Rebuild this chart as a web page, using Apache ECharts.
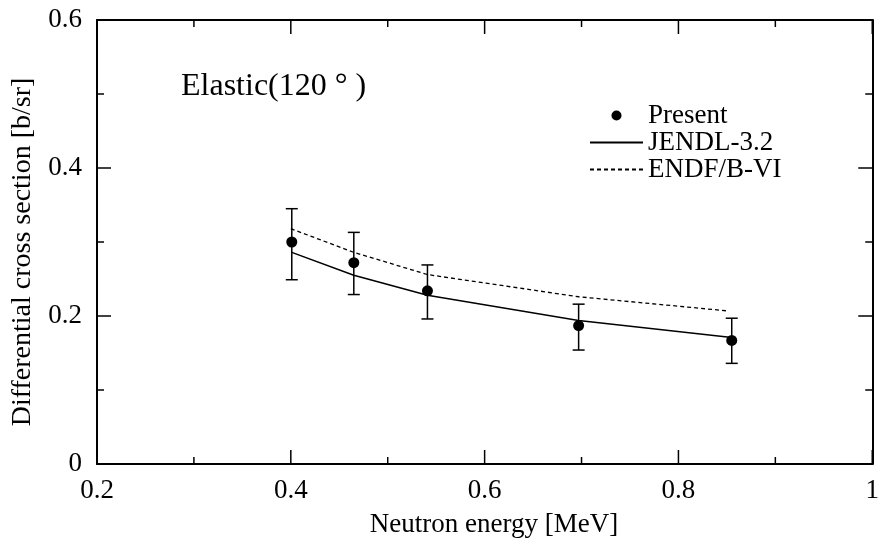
<!DOCTYPE html>
<html>
<head>
<meta charset="utf-8">
<script src="https://cdn.jsdelivr.net/npm/echarts@6/dist/echarts.min.js"></script>
<style>
html,body{margin:0;padding:0;background:#fff;}
#chart{width:882px;height:538px;}
</style>
</head>
<body>
<div id="chart"></div>
<script>
// Measured data (Neutron energy [MeV], differential cross section [b/sr])
const presentX = [0.401, 0.465, 0.541, 0.697, 0.855];
const presentY = [0.300, 0.272, 0.234, 0.187, 0.167];
const presentErrLow = [0.249, 0.229, 0.196, 0.154, 0.136];
const presentErrHigh = [0.345, 0.313, 0.269, 0.216, 0.197];

const jendlX = [0.401, 0.465, 0.541, 0.697, 0.855];
const jendlY = [0.286, 0.255, 0.228, 0.194, 0.171];

const endfX = [0.400, 0.465, 0.541, 0.697, 0.850];
const endfY = [0.318, 0.286, 0.256, 0.226, 0.207];

const xTicks = [0.2, 0.4, 0.6, 0.8, 1];
const xMinorTicks = [0.3, 0.5, 0.7, 0.9];
const yTicks = [0, 0.2, 0.4, 0.6];
const yMinorTicks = [0.1, 0.3, 0.5];

const FONT = '"Liberation Serif", "Times New Roman", serif';
const X_MIN = xTicks[0], X_MAX = xTicks[xTicks.length - 1];
const Y_MIN = yTicks[0], Y_MAX = yTicks[yTicks.length - 1];
const MAJOR_LEN = 14, MINOR_LEN = 7;

const chart = echarts.init(document.getElementById('chart'), null, {renderer: 'canvas'});

function axisCommon(showLabel, isX) {
  return {
    type: 'value',
    min: isX ? X_MIN : Y_MIN,
    max: isX ? X_MAX : Y_MAX,
    interval: 0.2,
    axisLine: {show: true, onZero: false, lineStyle: {color: '#000', width: 2}},
    axisTick: {show: false},
    minorTick: {show: false},
    splitLine: {show: false},
    minorSplitLine: {show: false},
    axisLabel: {
      show: showLabel,
      color: '#000',
      fontFamily: FONT,
      fontSize: 27,
      margin: isX ? 13 : 15,
      formatter: function (v) { return String(+v.toFixed(1)); }
    }
  };
}

const tickStyle = {stroke: '#000', lineWidth: 1.5};

const xTickData = xTicks.map(v => [v, Y_MIN, MAJOR_LEN]).concat(xMinorTicks.map(v => [v, Y_MIN, MINOR_LEN]));
const yTickData = yTicks.map(v => [X_MIN, v, MAJOR_LEN]).concat(yMinorTicks.map(v => [X_MIN, v, MINOR_LEN]));

const option = {
  backgroundColor: '#fff',
  animation: false,
  grid: {left: 97, right: 6, top: 20, bottom: 74, containLabel: false},
  xAxis: [
    Object.assign(axisCommon(true, true), {position: 'bottom'}),
    Object.assign(axisCommon(false, true), {position: 'top'})
  ],
  yAxis: [
    Object.assign(axisCommon(true, false), {position: 'left'}),
    Object.assign(axisCommon(false, false), {position: 'right'})
  ],
  legend: {
    orient: 'vertical',
    left: 589,
    top: 102,
    padding: 0,
    itemWidth: 53,
    itemHeight: 10,
    itemGap: 0,
    textStyle: {color: '#000', fontFamily: FONT, fontSize: 27},
    data: [
      {name: 'Present', icon: 'circle'},
      {name: 'JENDL-3.2', itemStyle: {opacity: 0}},
      {name: 'ENDF/B-VI', itemStyle: {opacity: 0}}
    ]
  },
  graphic: [
    {
      type: 'text', x: 181, y: 87,
      style: {text: 'Elastic(120 ° )', font: '32px ' + FONT, fill: '#000', verticalAlign: 'middle', align: 'left'}
    },
    {
      type: 'text', x: 494, y: 525,
      style: {text: 'Neutron energy [MeV]', font: '27px ' + FONT, fill: '#000', verticalAlign: 'middle', align: 'center'}
    },
    {
      type: 'text', x: 23, y: 252, rotation: Math.PI / 2,
      style: {text: 'Differential cross section [b/sr]', font: '28px ' + FONT, fill: '#000', verticalAlign: 'middle', align: 'center'}
    }
  ],
  series: [
    {
      name: 'xticks',
      type: 'custom',
      silent: true,
      data: xTickData,
      encode: {x: 0, y: 1},
      renderItem: function (params, api) {
        const v = api.value(0), len = api.value(2);
        const b = api.coord([v, Y_MIN]);
        const t = api.coord([v, Y_MAX]);
        return {
          type: 'group',
          children: [
            {type: 'line', shape: {x1: b[0], y1: b[1], x2: b[0], y2: b[1] - len}, style: tickStyle},
            {type: 'line', shape: {x1: t[0], y1: t[1], x2: t[0], y2: t[1] + len}, style: tickStyle}
          ]
        };
      },
      z: 1
    },
    {
      name: 'yticks',
      type: 'custom',
      silent: true,
      data: yTickData,
      encode: {x: 0, y: 1},
      renderItem: function (params, api) {
        const v = api.value(1), len = api.value(2);
        const l = api.coord([X_MIN, v]);
        const r = api.coord([X_MAX, v]);
        return {
          type: 'group',
          children: [
            {type: 'line', shape: {x1: l[0], y1: l[1], x2: l[0] + len, y2: l[1]}, style: tickStyle},
            {type: 'line', shape: {x1: r[0], y1: r[1], x2: r[0] - len, y2: r[1]}, style: tickStyle}
          ]
        };
      },
      z: 1
    },
    {
      name: 'ENDF/B-VI',
      type: 'line',
      symbol: 'none',
      data: endfX.map((x, i) => [x, endfY[i]]),
      lineStyle: {color: '#000', width: 1.3, type: [4, 3]},
      itemStyle: {color: '#000'},
      z: 2
    },
    {
      name: 'JENDL-3.2',
      type: 'line',
      symbol: 'none',
      data: jendlX.map((x, i) => [x, jendlY[i]]),
      lineStyle: {color: '#000', width: 1.5, type: 'solid'},
      itemStyle: {color: '#000'},
      z: 2
    },
    {
      name: 'errors',
      type: 'custom',
      data: presentX.map((x, i) => [x, presentErrLow[i], presentErrHigh[i]]),
      encode: {x: 0, y: [1, 2]},
      renderItem: function (params, api) {
        const x = api.value(0);
        const top = api.coord([x, api.value(2)]);
        const bot = api.coord([x, api.value(1)]);
        const hw = 6;
        const st = {stroke: '#000', lineWidth: 1.5};
        return {
          type: 'group',
          children: [
            {type: 'line', shape: {x1: top[0], y1: top[1], x2: bot[0], y2: bot[1]}, style: st},
            {type: 'line', shape: {x1: top[0] - hw, y1: top[1], x2: top[0] + hw, y2: top[1]}, style: st},
            {type: 'line', shape: {x1: bot[0] - hw, y1: bot[1], x2: bot[0] + hw, y2: bot[1]}, style: st}
          ]
        };
      },
      z: 3
    },
    {
      name: 'Present',
      type: 'scatter',
      symbol: 'circle',
      symbolSize: 11,
      data: presentX.map((x, i) => [x, presentY[i]]),
      itemStyle: {color: '#000', opacity: 1},
      z: 4
    }
  ]
};

chart.setOption(option);
</script>
</body>
</html>
